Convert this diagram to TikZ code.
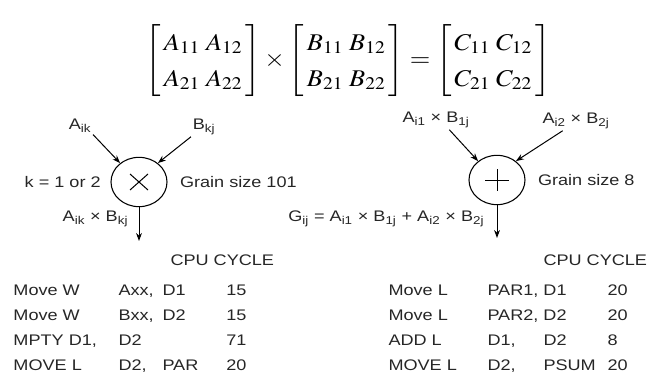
\documentclass[tikz,border=0pt]{standalone}
\usepackage{amsmath}
\usepackage{mathptmx}
\usepackage{graphicx}
\usepackage[no-math]{fontspec}
\setmainfont{Liberation Sans}[FakeStretch=1.18]
\usetikzlibrary{arrows.meta,positioning,shapes.geometric}
\tikzset{
  opnode/.style={draw,ellipse,minimum width=42,minimum height=37,inner sep=0pt,line width=0.8pt},
  lbl/.style={inner sep=1pt,text=black!85},
  cell/.style={anchor=base west,inner sep=0pt,text=black!85},
  cellr/.style={anchor=base east,inner sep=0pt,text=black!85}
}

\begin{document}
\begin{tikzpicture}[x=0.75pt,y=-0.75pt,>={Stealth[length=6pt,width=4.4pt]},line width=0.75pt,
  font=\fontsize{11.5}{13}\selectfont]
  \useasboundingbox (0,0) rectangle (649,381);

  % matrix product
  \node (eqn) at (348,61) {\scalebox{1.1}[1]{\fontsize{18}{21.5}\selectfont
    $\renewcommand{\arraystretch}{1.25}
    \begin{bmatrix}\,A_{11}\;A_{12}\,\\ \,A_{21}\;A_{22}\,\end{bmatrix}\times
    \begin{bmatrix}\,B_{11}\;B_{12}\,\\ \,B_{21}\;B_{22}\,\end{bmatrix}=
    \begin{bmatrix}\,C_{11}\;C_{12}\,\\ \,C_{21}\;C_{22}\,\end{bmatrix}$}};

  % multiply operator
  \node[opnode] (mul) at (139,182) {};
  \draw ([shift={(-9,-8)}]mul.center) -- ([shift={(9,8)}]mul.center);
  \draw ([shift={(-9,8)}]mul.center) -- ([shift={(9,-8)}]mul.center);
  \node[lbl] (aik) at (80,126) {A\textsubscript{ik}};
  \node[lbl] (bkj) at (204,127) {B\textsubscript{kj}};
  \node[lbl,left=6pt of mul] (kval) {k = 1 or 2};
  \node[lbl,right=8pt of mul] (grainm) {Grain size 101};
  \coordinate (mulout) at (139,241);
  \node[lbl,anchor=east] (prod) at (130,219) {A\textsubscript{ik} × B\textsubscript{kj}};

  \draw[->] (aik.south east) -- (mul.135);
  \draw[->] (bkj.south west) -- (mul.45);
  \draw[->] (mul.south) -- (mulout);

  % add operator
  \node[opnode] (add) at (497,180) {};
  \draw ([shift={(-12,0)}]add.center) -- ([shift={(12,0)}]add.center);
  \draw ([shift={(0,-11)}]add.center) -- ([shift={(0,11)}]add.center);
  \node[lbl] (p1) at (436,120) {A\textsubscript{i1} × B\textsubscript{1j}};
  \node[lbl] (p2) at (576,121) {A\textsubscript{i2} × B\textsubscript{2j}};
  \node[lbl,right=8pt of add] (graina) {Grain size 8};
  \coordinate (addout) at (497,238);
  \node[lbl,anchor=east] (gsum) at (486,219)
    {G\textsubscript{ij} = A\textsubscript{i1} × B\textsubscript{1j} + A\textsubscript{i2} × B\textsubscript{2j}};

  \draw[->] ([xshift=10pt]p1.south) -- (add.135);
  \draw[->] ([xshift=-10pt]p2.south) -- (add.45);
  \draw[->] (add.south) -- (addout);

  % multiply code
  \node[cell] (cpum) at (170,265) {CPU CYCLE};
  \node[cell] (m1a) at (13,295) {Move W};
  \node[cell] (m1b) at (118,295) {Axx,};
  \node[cell] (m1c) at (162,295) {D1};
  \node[cellr] (m1d) at (247,295) {15};
  \node[cell] (m2a) at (13,320) {Move W};
  \node[cell] (m2b) at (118,320) {Bxx,};
  \node[cell] (m2c) at (162,320) {D2};
  \node[cellr] (m2d) at (247,320) {15};
  \node[cell] (m3a) at (13,345) {MPTY D1,};
  \node[cell] (m3b) at (118,345) {D2};
  \node[cellr] (m3d) at (247,345) {71};
  \node[cell] (m4a) at (13,370) {MOVE L};
  \node[cell] (m4b) at (118,370) {D2,};
  \node[cell] (m4c) at (162,370) {PAR};
  \node[cellr] (m4d) at (247,370) {20};

  % add code
  \node[cell] (cpua) at (543,265) {CPU CYCLE};
  \node[cell] (a1a) at (388,295) {Move L};
  \node[cell] (a1b) at (487,295) {PAR1, D1};
  \node[cell] (a1d) at (607,295) {20};
  \node[cell] (a2a) at (388,320) {Move L};
  \node[cell] (a2b) at (487,320) {PAR2, D2};
  \node[cell] (a2d) at (607,320) {20};
  \node[cell] (a3a) at (388,345) {ADD L};
  \node[cell] (a3b) at (487,345) {D1,};
  \node[cell] (a3c) at (543,345) {D2};
  \node[cell] (a3d) at (607,345) {8};
  \node[cell] (a4a) at (388,370) {MOVE L};
  \node[cell] (a4b) at (487,370) {D2,};
  \node[cell] (a4c) at (543,370) {PSUM};
  \node[cell] (a4d) at (607,370) {20};
\end{tikzpicture}
\end{document}
